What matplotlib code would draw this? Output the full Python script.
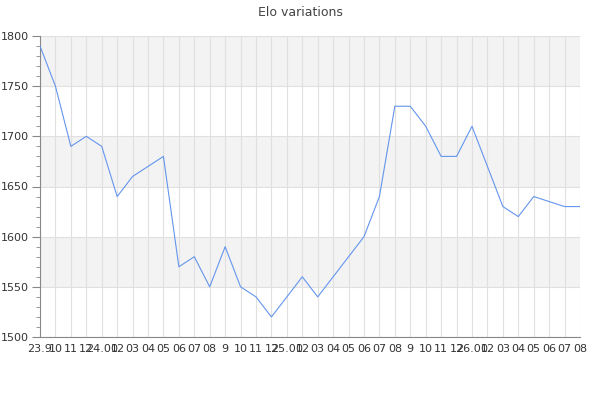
import numpy as np
import matplotlib as mpl
mpl.use('Agg')
import matplotlib.pyplot as plt
from matplotlib.ticker import MultipleLocator

# month labels, as printed under the axis
labels = ['23.9', '10', '11', '12',
          '24.01', '02', '03', '04', '05', '06', '07', '08', '9', '10', '11', '12',
          '25.01', '02', '03', '04', '05', '06', '07', '08', '9', '10', '11', '12',
          '26.01', '02', '03', '04', '05', '06', '07', '08']
elo = [1790, 1750, 1690, 1700, 1690, 1640, 1660, 1670, 1680, 1570,
       1580, 1550, 1590, 1550, 1540, 1520, 1540, 1560, 1540, 1560,
       1580, 1600, 1640, 1730, 1730, 1710, 1680, 1680, 1710, 1670,
       1630, 1620, 1640, 1635, 1630, 1630]
bands = [(1550, 1600), (1650, 1700), (1750, 1800)]

fig = plt.figure(figsize=(6, 4), dpi=100)
ax = fig.add_axes([40/600, 1-337/400, 540/600, 301/400])

x = np.arange(len(elo))
for lo, hi in bands:
    ax.axhspan(lo, hi, color='#f3f3f3', zorder=0, lw=0)

ax.plot(x, elo, color='#6495ed', lw=0.8, zorder=3)

ax.set_xlim(0, len(elo) - 1)
ax.set_ylim(1500, 1800)
ax.set_xticks(x)
ax.set_xticklabels(labels)
ax.yaxis.set_major_locator(MultipleLocator(50))
ax.yaxis.set_minor_locator(MultipleLocator(10))

ax.grid(True, color='#e0e0e0', lw=0.8, zorder=1)
ax.set_axisbelow(True)
for s in ['top', 'right']:
    ax.spines[s].set_visible(False)
ax.spines['left'].set_color('#888888')
ax.spines['bottom'].set_color('#888888')
ax.tick_params(axis='x', length=0, pad=5, labelsize=8, labelcolor='#333333')
ax.tick_params(axis='y', which='major', length=6, color='#888888', labelsize=8, labelcolor='#333333', pad=2)
ax.tick_params(axis='y', which='minor', length=3, color='#888888')

fig.suptitle('Elo variations', y=0.985, fontsize=9, color='#444444')

fig.savefig('out.png', dpi=100)
